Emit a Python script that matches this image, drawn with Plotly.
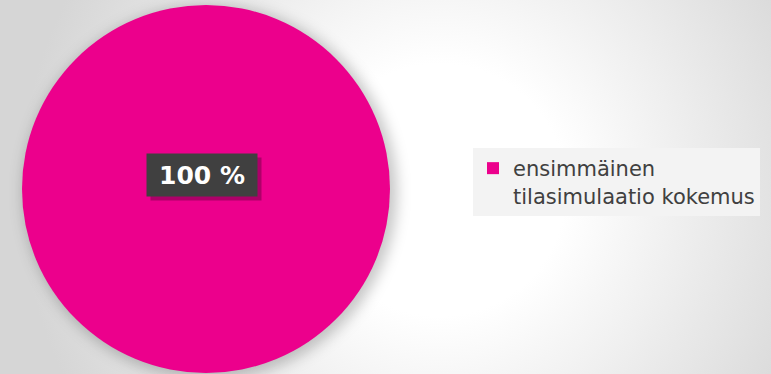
import base64
import plotly.graph_objects as go

# ---- data ----
labels = ["ensimmäinen<br>tilasimulaatio kokemus"]
values = [100]
colors = ["#EC008C"]

W, H = 771, 374
cx, cy, r = 206, 189, 184

total = sum(values)
pct_text = f"{values[0] / total * 100:.0f} %"

# background: radial gradient + soft shadow behind the pie
svg = f'''<svg xmlns="http://www.w3.org/2000/svg" width="{W}" height="{H}" viewBox="0 0 {W} {H}">
<defs>
<radialGradient id="g" cx="440" cy="190" r="420" gradientUnits="userSpaceOnUse">
<stop offset="0" stop-color="#ffffff"/>
<stop offset="0.3" stop-color="#ffffff"/>
<stop offset="1" stop-color="#d6d6d6"/>
</radialGradient>
<filter id="b" x="-20%" y="-20%" width="140%" height="140%"><feGaussianBlur stdDeviation="7"/></filter>
</defs>
<rect width="{W}" height="{H}" fill="url(#g)"/>
<circle cx="{cx+4}" cy="{cy+3}" r="{r+3}" fill="#000" fill-opacity="0.22" filter="url(#b)"/>
</svg>'''
src = "data:image/svg+xml;base64," + base64.b64encode(svg.encode()).decode()

fig = go.Figure()
fig.add_trace(go.Pie(
    labels=labels, values=values,
    marker=dict(colors=colors, line=dict(width=0)),
    textinfo="none", hoverinfo="label+percent",
    sort=False, direction="clockwise",
    domain=dict(x=[(cx - r) / W, (cx + r) / W], y=[1 - (cy + r) / H, 1 - (cy - r) / H]),
    showlegend=True,
))

fig.add_layout_image(dict(source=src, xref="paper", yref="paper", x=0, y=1,
                          sizex=1, sizey=1, xanchor="left", yanchor="top",
                          sizing="stretch", layer="below"))

lx, ly = 202 / W, 1 - 175 / H
# label shadow box
fig.add_annotation(x=lx, y=ly, xref="paper", yref="paper", text=" ",
                   xanchor="center", yanchor="middle",
                   showarrow=False, xshift=4, yshift=-4, width=110, height=42,
                   font=dict(family="DejaVu Sans", size=25, color="rgba(0,0,0,0)"),
                   bgcolor="rgba(60,0,40,0.35)", borderpad=0)
fig.add_annotation(x=lx, y=ly, xref="paper", yref="paper", text=f"<b>{pct_text}</b>",
                   xanchor="center", yanchor="middle",
                   showarrow=False, width=110, height=42,
                   font=dict(family="DejaVu Sans", size=25, color="#ffffff"),
                   bgcolor="#404040", borderpad=0)

fig.update_layout(
    width=W, height=H,
    margin=dict(l=0, r=0, t=0, b=0),
    paper_bgcolor="rgba(0,0,0,0)", plot_bgcolor="rgba(0,0,0,0)",
    legend=dict(x=473 / W, y=1 - 148 / H, xanchor="left", yanchor="top",
                bgcolor="#f3f3f3", font=dict(family="DejaVu Sans", size=21, color="#404040"),
                itemsizing="constant", valign="top", itemwidth=30),
)

fig.write_html("out.html", config={"displayModeBar": False},
               post_script="document.body.style.margin='0';")
